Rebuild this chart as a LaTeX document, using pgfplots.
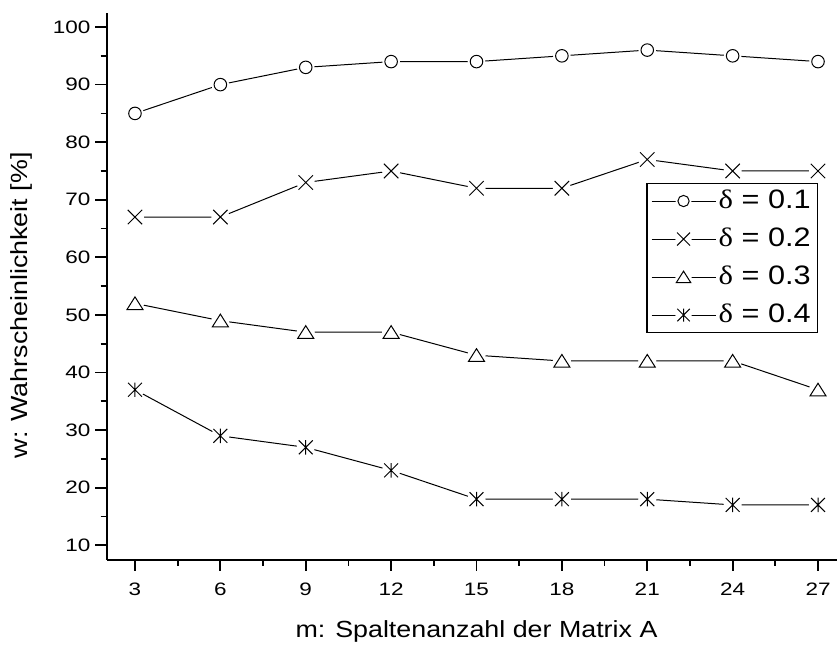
\documentclass[border=0pt]{standalone}
\usepackage{fontspec}
\setmainfont{Liberation Sans}[FakeStretch=1.15]
\newfontfamily\tickfont{Liberation Sans}[FakeStretch=1.25]
\newfontfamily\grk{Liberation Serif}[FakeStretch=1.15]
\usepackage{pgfplots}
\pgfplotsset{compat=1.18}

\pgfdeclareplotmark{gcirc}{%
  \pgfscope\pgfsetfillcolor{white}\pgfpathcircle{\pgfpointorigin}{6.6\pgfplotmarksize}\pgfusepath{fill}\endpgfscope
  \pgfpathcircle{\pgfpointorigin}{4.7\pgfplotmarksize}\pgfusepath{stroke}}
\pgfdeclareplotmark{gx}{%
  \pgfscope\pgfsetfillcolor{white}\pgfpathcircle{\pgfpointorigin}{6.8\pgfplotmarksize}\pgfusepath{fill}\endpgfscope
  \pgfpathmoveto{\pgfqpoint{-5.4\pgfplotmarksize}{-5.4\pgfplotmarksize}}
  \pgfpathlineto{\pgfqpoint{5.4\pgfplotmarksize}{5.4\pgfplotmarksize}}
  \pgfpathmoveto{\pgfqpoint{-5.4\pgfplotmarksize}{5.4\pgfplotmarksize}}
  \pgfpathlineto{\pgfqpoint{5.4\pgfplotmarksize}{-5.4\pgfplotmarksize}}
  \pgfusepath{stroke}}
\pgfdeclareplotmark{gtri}{%
  \pgfscope\pgfsetfillcolor{white}\pgfpathcircle{\pgfpointorigin}{6.8\pgfplotmarksize}\pgfusepath{fill}\endpgfscope
  \pgfpathmoveto{\pgfqpoint{-6\pgfplotmarksize}{-4.6\pgfplotmarksize}}
  \pgfpathlineto{\pgfqpoint{6\pgfplotmarksize}{-4.6\pgfplotmarksize}}
  \pgfpathlineto{\pgfqpoint{0pt}{4.9\pgfplotmarksize}}
  \pgfpathclose
  \pgfusepath{stroke}}
\pgfdeclareplotmark{gstar}{%
  \pgfscope\pgfsetfillcolor{white}\pgfpathcircle{\pgfpointorigin}{6.8\pgfplotmarksize}\pgfusepath{fill}\endpgfscope
  \pgfpathmoveto{\pgfqpoint{-5.2\pgfplotmarksize}{-5.2\pgfplotmarksize}}
  \pgfpathlineto{\pgfqpoint{5.2\pgfplotmarksize}{5.2\pgfplotmarksize}}
  \pgfpathmoveto{\pgfqpoint{-5.2\pgfplotmarksize}{5.2\pgfplotmarksize}}
  \pgfpathlineto{\pgfqpoint{5.2\pgfplotmarksize}{-5.2\pgfplotmarksize}}
  \pgfpathmoveto{\pgfqpoint{0pt}{-5.4\pgfplotmarksize}}
  \pgfpathlineto{\pgfqpoint{0pt}{5.4\pgfplotmarksize}}
  \pgfusepath{stroke}}

\pgfplotstableread{
x  a  b  c  d
3  85 67 52 37
6  90 67 49 29
9  93 73 47 27
12 94 75 47 23
15 94 72 43 18
18 95 72 42 18
21 96 77 42 18
24 95 75 42 17
27 94 75 37 17
}\datatab

\begin{document}
\begin{tikzpicture}
\useasboundingbox (-79.9pt,-63.75pt) rectangle (547.9pt,419.75pt);
\begin{axis}[
  at={(0,0)}, anchor=south west,
  scale only axis,
  width=555pt, height=410.25pt,
  xmin=2, xmax=28, ymin=7.5, ymax=102.5,
  axis x line=bottom, axis y line=left,
  axis line style={-, line width=1.5pt},
  xtick={3,6,...,27}, ytick={10,20,...,100},
  minor x tick num=1, minor y tick num=1,
  tick align=outside,
  major tick length=8.5pt, minor tick length=4.5pt,
  every tick/.style={line width=1.3pt, black},
  tick label style={font=\tickfont\fontsize{13.5}{15}\selectfont},
  /pgf/number format/assume math mode=true,
  xticklabel style={yshift=-5.5pt},
  xlabel style={at={(axis description cs:0.5,-0.1316)}, anchor=center},
  ylabel style={at={(axis description cs:-0.1145,0.465)}, anchor=center},
  label style={font=\fontsize{17.5}{20}\selectfont},
  xlabel={m: Spaltenanzahl der Matrix A},
  ylabel={w: Wahrscheinlichkeit [\%]},
  legend image code/.code={\draw[mark repeat=2, mark phase=2, #1, mark size=0.9pt] plot coordinates {(0pt,0pt) (24pt,0pt) (48pt,0pt)};},
  legend style={at={(axis description cs:0.9615,0.689)}, anchor=north east,
    draw=black, line width=0.9pt, inner xsep=3pt, inner ysep=2pt, row sep=6pt,
    font=\fontsize{20}{22}\selectfont,
    nodes={inner sep=2pt, text height=14.5pt, text depth=4pt}},
  legend cell align=left,
  every axis plot/.append style={line width=0.75pt, black, mark size=1pt, mark options={solid, line width=0.75pt}},
]
\addplot[mark=gcirc] table[x=x,y=a] {\datatab};
\addlegendentry{{\grk δ} = 0.1}
\addplot[mark=gx] table[x=x,y=b] {\datatab};
\addlegendentry{{\grk δ} = 0.2}
\addplot[mark=gtri] table[x=x,y=c] {\datatab};
\addlegendentry{{\grk δ} = 0.3}
\addplot[mark=gstar] table[x=x,y=d] {\datatab};
\addlegendentry{{\grk δ} = 0.4}
\end{axis}
\end{tikzpicture}
\end{document}
